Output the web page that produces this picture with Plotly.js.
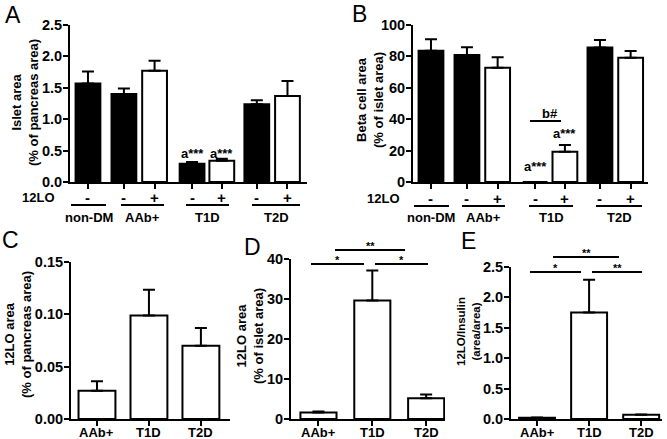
<!DOCTYPE html>
<html><head><meta charset="utf-8">
<script src="https://cdn.plot.ly/plotly-3.0.1.min.js"></script>
<style>html,body{margin:0;padding:0;background:#fff}#chart{width:667px;height:439px}</style>
</head><body><div id="chart"></div>
<script>
// ---------- data ----------
const groupsAB = ["non-DM", "AAb+", "T1D", "T2D"];
const bar12LO = ["-", "-", "+", "-", "+", "-", "+"];
const isletArea = [1.57, 1.40, 1.77, 0.29, 0.34, 1.24, 1.37];
const isletSem  = [0.19, 0.09, 0.16, 0.03, 0.03, 0.06, 0.24];
const betaArea  = [83.6, 80.9, 72.8, 0, 19.3, 85.6, 79.2];
const betaSem   = [7.3, 4.9, 6.6, 0, 4.3, 4.8, 4.2];
const catsCDE = ["AAb+", "T1D", "T2D"];
const loPancreas    = [0.027, 0.099, 0.070];
const loPancreasSem = [0.009, 0.0245, 0.017];
const loIslet       = [1.65, 29.6, 5.2];
const loIsletSem    = [0.25, 7.5, 0.9];
const loInsulin     = [0.02, 1.75, 0.07];
const loInsulinSem  = [0.005, 0.54, 0.005];
const ticksA = [0, 0.5, 1.0, 1.5, 2.0, 2.5];
const ticksB = [0, 20, 40, 60, 80, 100];
const ticksC = [0, 0.05, 0.10, 0.15];
const ticksD = [0, 10, 20, 30, 40];
const ticksE = [0, 0.5, 1.0, 1.5, 2.0, 2.5];

// ---------- layout helpers ----------
const W = 667, H = 439;
const FONT = "Liberation Sans, Arial, sans-serif";
const px = x => x / W;
const py = y => 1 - y / H;
const posAB = [0.58, 1.74, 2.73, 3.94, 4.90, 6.03, 7.02];
const colorsAB = bar12LO.map(s => s === "-" ? "#000" : "#fff");

function errs(arr) {
  return {type: 'data', array: arr, arrayminus: arr.map(() => 0), symmetric: false,
          color: '#000', thickness: 2, width: 6};
}
function barTrace(x, y, sem, xa, ya, colors, width) {
  return {type: 'bar', x: x, y: y, xaxis: xa, yaxis: ya, width: width,
          marker: {color: colors, line: {color: '#000', width: 2}},
          error_y: errs(sem), hoverinfo: 'none', showlegend: false};
}
function yax(top, bottom, range, tickvals, fmt, anchor) {
  return {domain: [py(bottom), py(top)], range: range, tickvals: tickvals, tickformat: fmt,
          showline: true, linewidth: 2, linecolor: '#000', ticks: 'outside', ticklen: 5,
          tickwidth: 2, tickcolor: '#000', showgrid: false, zeroline: false, anchor: anchor,
          ticklabelstandoff: -2,
          tickfont: {family: FONT, size: 14.5, color: '#000', weight: 'bold'}, fixedrange: true};
}
function xax(left, right, range, anchor, extra) {
  return Object.assign({domain: [px(left), px(right)], range: range, showline: true,
          linewidth: 2, linecolor: '#000', ticks: 'outside', ticklen: 5, tickwidth: 2,
          tickcolor: '#000', showgrid: false, zeroline: false, anchor: anchor,
          showticklabels: false, fixedrange: true}, extra);
}

const data = [
  barTrace(posAB, isletArea, isletSem, 'x', 'y', colorsAB, 0.8),
  barTrace(posAB, betaArea, betaSem, 'x2', 'y2', colorsAB, 0.8),
  barTrace(catsCDE, loPancreas, loPancreasSem, 'x3', 'y3', '#fff', 0.71),
  barTrace(catsCDE, loIslet, loIsletSem, 'x4', 'y4', '#fff', 0.67),
  barTrace(catsCDE, loInsulin, loInsulinSem, 'x5', 'y5', '#fff', 0.69)
];

const ann = [];
const shapes = [];
function txt(x, y, text, size, opts) {
  ann.push(Object.assign({x: x, y: y, xref: 'paper', yref: 'paper', text: text, showarrow: false,
    xanchor: 'center', yanchor: 'middle',
    font: {family: FONT, size: size, color: '#000', weight: 'bold'}}, opts || {}));
}
function hline(x0, x1, y) {
  shapes.push({type: 'line', xref: 'paper', yref: 'paper', x0: px(x0), x1: px(x1),
    y0: py(y), y1: py(y), line: {color: '#000', width: 2}});
}

// panel letters
[["A", 13, 15], ["B", 359, 14], ["C", 10, 240], ["D", 252, 247], ["E", 468, 241]].forEach(l =>
  txt(px(l[1]), py(l[2]), l[0], 23, {font: {family: FONT, size: 23, color: '#000', weight: 'normal'}}));

// y titles
txt(px(25), py(103), "Islet area<br>(% of pancreas area)", 13, {textangle: -90});
txt(px(370), py(100), "Beta cell area<br>(% of islet area)", 13, {textangle: -90});
txt(px(18), py(335), "12LO area<br>(% of pancreas area)", 13, {textangle: -90});
txt(px(250), py(336), "12LO area<br>(% of islet area)", 13, {textangle: -90});
txt(px(468), py(332), "12LO/Insulin<br>(area/area)", 11.5, {textangle: -90});

// category labels C, D, E
['x3', 'x4', 'x5'].forEach(xa => catsCDE.forEach(c => ann.push({x: c, xref: xa, y: py(432), yref: 'paper',
  text: c, showarrow: false, xanchor: 'center', yanchor: 'middle',
  font: {family: FONT, size: 13, color: '#000', weight: 'bold'}})));

// 12LO sign rows and group labels (A, B)
const rowAB = [
  {xa: 'x', lab: 38, signY: 197, lineY: 205, grpY: 217,
   lines: [[71, 106], [121, 164], [186, 229], [252, 300]]},
  {xa: 'x2', lab: 383, signY: 198, lineY: 206, grpY: 217,
   lines: [[414, 449], [462, 505], [529, 573], [596, 642]]}
];
rowAB.forEach(r => {
  txt(px(r.lab), py(r.signY), "12LO", 13);
  bar12LO.forEach((s, i) => ann.push({x: posAB[i], xref: r.xa, y: py(r.signY), yref: 'paper',
    text: s, showarrow: false, xanchor: 'center', yanchor: 'middle',
    font: {family: FONT, size: 15, color: '#000', weight: 'bold'}}));
  r.lines.forEach((l, i) => {
    hline(l[0], l[1], r.lineY);
    txt(px((l[0] + l[1]) / 2), py(r.grpY), groupsAB[i], 13);
  });
});

// significance labels A, B
function barLab(xa, i, y, text) {
  ann.push({x: posAB[i], xref: xa, y: py(y), yref: 'paper', text: text, showarrow: false,
    xanchor: 'center', yanchor: 'middle', font: {family: FONT, size: 13, color: '#000', weight: 'bold'}});
}
barLab('x', 3, 153, "a***");
barLab('x', 4, 153, "a***");
barLab('x2', 3, 166, "a***");
barLab('x2', 4, 134, "a***");
hline(530, 561, 121);
txt(px(550), py(113), "b#", 13);

// significance brackets D, E
function sig(x0, x1, y, text) {
  hline(x0, x1, y);
  txt(px((x0 + x1) / 2), py(y - 4), text, 11);
}
sig(335, 405, 250, "**");
sig(311, 364, 264, "*");
sig(375, 428, 264, "*");
sig(553, 619, 257, "**");
sig(530, 581, 272, "*");
sig(592, 642, 272, "**");

const layout = {
  width: W, height: H, margin: {l: 0, r: 0, t: 0, b: 0}, paper_bgcolor: '#fff', plot_bgcolor: '#fff',
  showlegend: false, bargap: 0,
  xaxis:  xax(70, 307, [0, 7.65], 'y', {tickvals: posAB}),
  yaxis:  yax(25, 182, [0, 2.5], ticksA, '.1f', 'x'),
  xaxis2: xax(413, 648, [0, 7.58], 'y2', {tickvals: posAB}),
  yaxis2: yax(25, 182, [0, 100], ticksB, 'd', 'x2'),
  xaxis3: xax(71, 230, [-0.5, 2.56], 'y3', {type: 'category'}),
  yaxis3: yax(262, 419, [0, 0.15], ticksC, '.2f', 'x3'),
  xaxis4: xax(291, 445, [-0.51, 2.35], 'y4', {type: 'category'}),
  yaxis4: yax(259, 419, [0, 40], ticksD, 'd', 'x4'),
  xaxis5: xax(511, 662, [-0.5, 2.4], 'y5', {type: 'category'}),
  yaxis5: yax(267, 419, [0, 2.5], ticksE, '.1f', 'x5'),
  annotations: ann, shapes: shapes
};
Plotly.newPlot('chart', data, layout, {staticPlot: true, displayModeBar: false});
</script></body></html>
